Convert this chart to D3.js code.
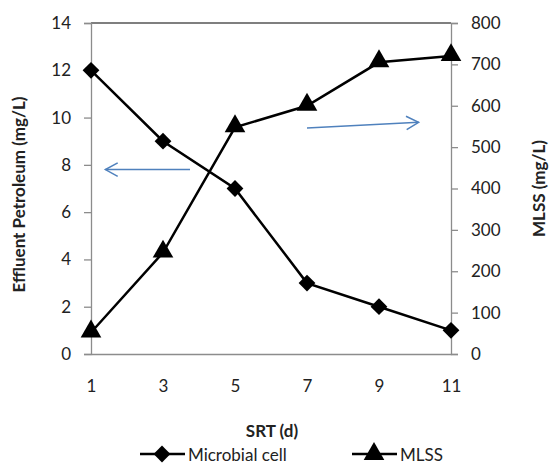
<!DOCTYPE html>
<html>
<head>
<meta charset="utf-8">
<script src="https://cdn.jsdelivr.net/npm/d3@7"></script>
<style>
  body { margin: 0; background: #fff; }
  svg text { font-family: Lato, "Open Sans", sans-serif; fill: #222; }
</style>
</head>
<body>
<svg id="chart"></svg>
<script>
// data
const srt = [1, 3, 5, 7, 9, 11];
const microbialCell = [12, 9, 7, 3, 2, 1];
const mlss = [52, 245, 548, 600, 705, 720];
const leftTicks = [0, 2, 4, 6, 8, 10, 12, 14];
const rightTicks = [0, 100, 200, 300, 400, 500, 600, 700, 800];

const W = 549, H = 465;
const margin = {top: 23, right: 98, bottom: 111, left: 91};
const width = W - margin.left - margin.right;
const height = H - margin.top - margin.bottom;

const svg = d3.select("#chart")
  .attr("width", W)
  .attr("height", H);

const g = svg.append("g")
  .attr("transform", "translate(" + margin.left + "," + margin.top + ")");

const x = d3.scaleLinear().domain([1, 11]).range([0, width]);
const yL = d3.scaleLinear().domain([0, 14]).range([height, 0]);
const yR = d3.scaleLinear().domain([0, 800]).range([height, 0]);

// top border
g.append("line")
  .attr("x1", 0).attr("x2", width)
  .attr("y1", 0).attr("y2", 0)
  .style("stroke", "#000").style("stroke-width", 1.2);

// left axis
const axL = g.append("g")
  .call(d3.axisLeft(yL).tickValues(leftTicks).tickSize(7).tickPadding(13));
// right axis
const axR = g.append("g")
  .attr("transform", "translate(" + width + ",0)")
  .call(d3.axisRight(yR).tickValues(rightTicks).tickSize(7).tickPadding(13));
// bottom axis
const axB = g.append("g")
  .attr("transform", "translate(0," + height + ")")
  .call(d3.axisBottom(x).tickValues(srt).tickSize(0).tickPadding(26));

[axL, axR, axB].forEach(a => {
  a.select(".domain").style("stroke", "#8c8c8c").style("stroke-width", 1.3);
  a.selectAll(".tick line").style("stroke", "#8c8c8c").style("stroke-width", 1.3);
  a.selectAll(".tick text").style("font-size", "17px").style("fill", "#222");
});

// lines
const lineL = d3.line().x((d, i) => x(srt[i])).y(d => yL(d));
const lineR = d3.line().x((d, i) => x(srt[i])).y(d => yR(d));

g.append("path").datum(microbialCell)
  .attr("d", lineL)
  .style("fill", "none").style("stroke", "#000").style("stroke-width", 2.5);
g.append("path").datum(mlss)
  .attr("d", lineR)
  .style("fill", "none").style("stroke", "#000").style("stroke-width", 2.5);

const diamond = d3.symbol().type(d3.symbolDiamond2).size(180);
const triangle = d3.symbol().type(d3.symbolTriangle).size(185);

g.selectAll(".dia").data(microbialCell).enter().append("path")
  .attr("transform", (d, i) => "translate(" + x(srt[i]) + "," + yL(d) + ")")
  .attr("d", diamond).style("fill", "#000");
g.selectAll(".tri").data(mlss).enter().append("path")
  .attr("transform", (d, i) => "translate(" + x(srt[i]) + "," + (yR(d) - 1) + ")")
  .attr("d", triangle).style("fill", "#000");

// blue arrows
function arrow(x1, y1, x2, y2) {
  g.append("line")
    .attr("x1", x1).attr("y1", y1).attr("x2", x2).attr("y2", y2)
    .style("stroke", "#4f81bd").style("stroke-width", 1.5);
  const a = Math.atan2(y2 - y1, x2 - x1);
  const len = 14, sp = 0.5;
  const p = d3.path();
  p.moveTo(x2 - len * Math.cos(a - sp), y2 - len * Math.sin(a - sp));
  p.lineTo(x2, y2);
  p.lineTo(x2 - len * Math.cos(a + sp), y2 - len * Math.sin(a + sp));
  g.append("path").attr("d", p.toString())
    .style("fill", "none").style("stroke", "#4f81bd").style("stroke-width", 1.5);
}
// left arrow points to the left axis, right arrow to the right axis
arrow(x(3.75), yL(7.8), x(1.4), yL(7.8));
arrow(x(7.0), yR(546), x(10.1), yR(560));

// axis titles
svg.append("text")
  .attr("transform", "translate(25," + (margin.top + height / 2 + 6) + ") rotate(-90)")
  .style("text-anchor", "middle")
  .style("font-size", "17px").style("font-weight", "bold")
  .text("Effluent Petroleum (mg/L)");
svg.append("text")
  .attr("transform", "translate(545," + (margin.top + height / 2) + ") rotate(-90)")
  .style("text-anchor", "middle")
  .style("font-size", "17px").style("font-weight", "bold")
  .text("MLSS (mg/L)");
svg.append("text")
  .attr("x", 272).attr("y", 437)
  .style("text-anchor", "middle")
  .style("font-size", "17px").style("font-weight", "bold")
  .text("SRT (d)");

// legend
const legend = [
  {name: "Microbial cell", sym: diamond, x: 140},
  {name: "MLSS", sym: triangle, x: 352}
];
legend.forEach(l => {
  svg.append("line")
    .attr("x1", l.x).attr("x2", l.x + 45)
    .attr("y1", 454).attr("y2", 454)
    .style("stroke", "#000").style("stroke-width", 2.5);
  svg.append("path")
    .attr("transform", "translate(" + (l.x + 22) + ",454)")
    .attr("d", l.sym).style("fill", "#000");
  svg.append("text")
    .attr("x", l.x + 48).attr("y", 461)
    .style("font-size", "17px")
    .text(l.name);
});
</script>
</body>
</html>
